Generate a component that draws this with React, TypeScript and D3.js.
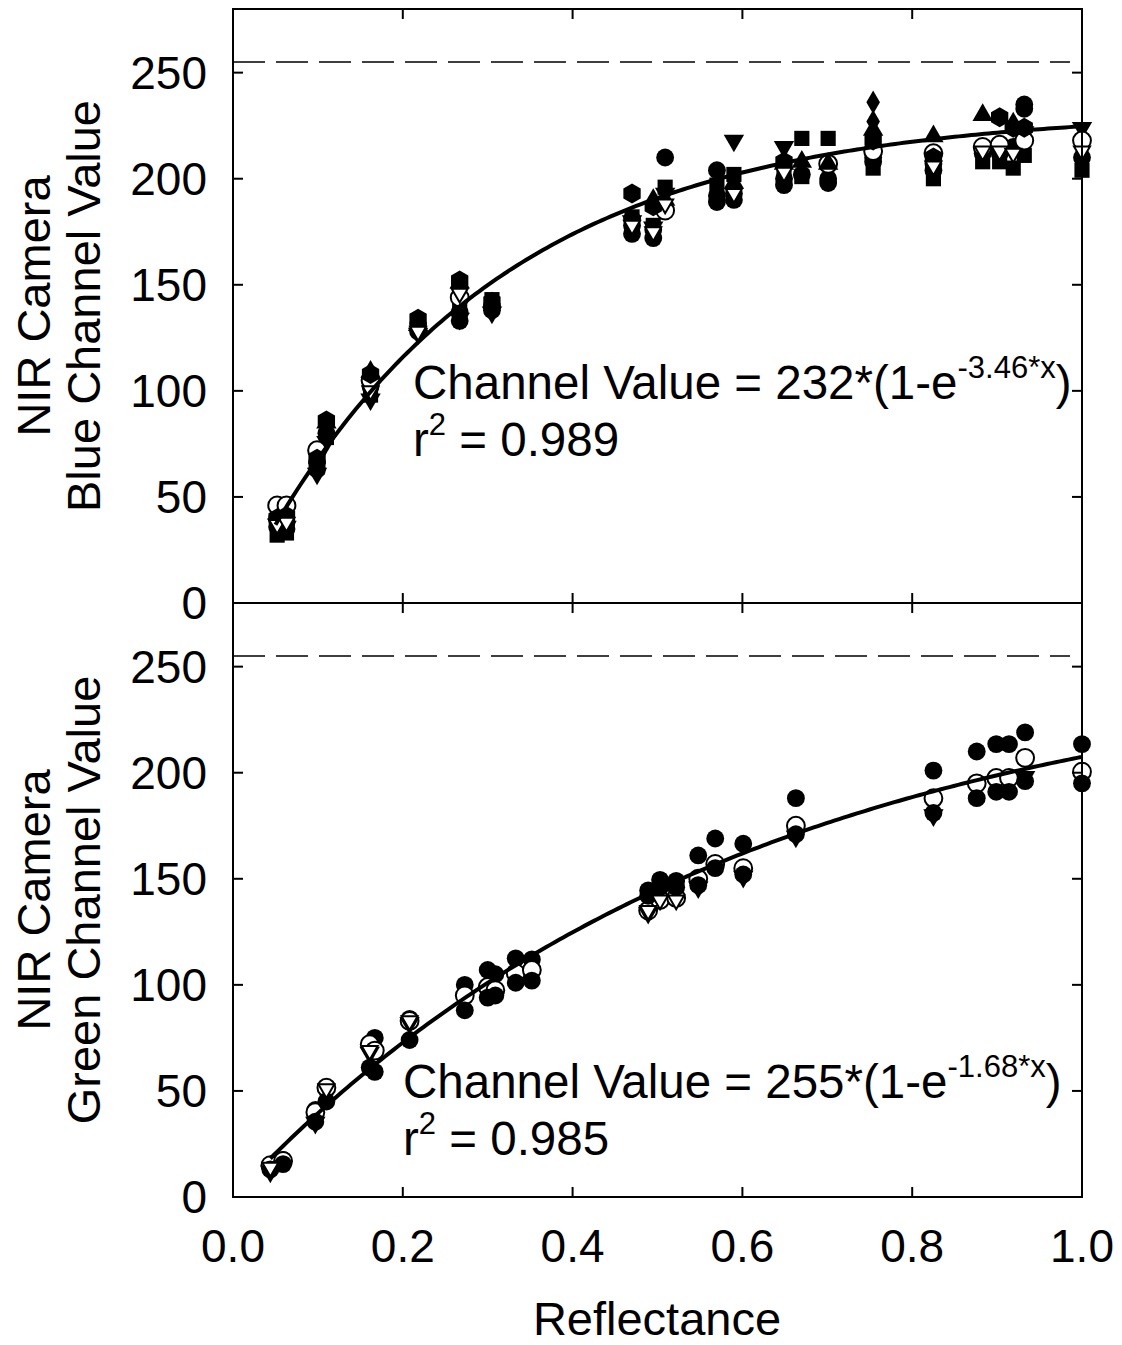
import * as d3 from "d3";

// reflectance vs channel value
const blueCircle = [[0.052,40],[0.063,38],[0.099,66],[0.110,80],[0.162,102],[0.218,128],[0.267,137],[0.305,138],[0.470,174],[0.495,172],[0.509,210],[0.570,204],[0.590,190],[0.649,197],[0.670,202],[0.701,200],[0.754,210],[0.825,204],[0.883,212],[0.903,212],[0.919,215],[0.932,235],[1.0,210]];
const blueCircleB = [[0.052,36],[0.063,35],[0.099,63],[0.218,131],[0.267,133],[0.305,140],[0.470,178],[0.470,181],[0.495,176],[0.570,192],[0.570,189],[0.590,193],[0.649,200],[0.701,198],[0.754,208],[0.825,207],[0.932,233]];
const blueOpenCircle = [[0.052,46],[0.063,46],[0.099,72],[0.162,105],[0.267,144],[0.509,185],[0.701,207],[0.754,213],[0.825,212],[0.883,215],[0.903,216],[0.932,218],[1.0,218]];
const blueTriDown = [[0.052,37],[0.063,36],[0.099,61],[0.110,76],[0.162,96],[0.218,127],[0.267,134],[0.305,137],[0.470,180],[0.495,177],[0.509,193],[0.590,218],[0.649,215],[0.932,222],[1.0,224]];
const blueOpenTriDown = [[0.052,37],[0.063,38],[0.162,100],[0.218,128],[0.267,146],[0.470,178],[0.495,175],[0.509,188],[0.590,193],[0.649,203],[0.825,206],[0.883,213],[0.903,213],[0.919,212],[1.0,213]];
const blueSquare = [[0.052,32],[0.063,33],[0.099,64],[0.110,78],[0.162,98],[0.218,133],[0.267,139],[0.305,143],[0.470,182],[0.495,178],[0.509,196],[0.570,197],[0.590,202],[0.649,205],[0.670,219],[0.670,201],[0.701,219],[0.754,205],[0.825,200],[0.883,208],[0.903,208],[0.919,205],[0.932,211],[1.0,204]];
const blueDiamond = [[0.052,38],[0.110,82],[0.495,190],[0.754,236],[0.754,227],[0.919,226]];
const blueTriUp = [[0.110,85],[0.162,109],[0.218,131],[0.267,151],[0.509,190],[0.590,198],[0.649,207],[0.670,208],[0.701,207],[0.754,223],[0.825,220],[0.883,230]];
const blueHexagon = [[0.052,40],[0.063,41],[0.099,68],[0.110,86],[0.162,108],[0.218,134],[0.267,152],[0.305,142],[0.470,193],[0.495,187],[0.649,208],[0.754,218],[0.825,210],[0.903,229],[0.919,224],[0.932,224]];

const greenCircleHi = [[0.044,15],[0.059,17.5],[0.097,41],[0.110,51],[0.167,75],[0.208,84],[0.273,100],[0.300,107],[0.309,105],[0.333,112.5],[0.352,112],[0.489,144.5],[0.503,149.5],[0.522,149],[0.548,161],[0.568,169],[0.601,166.5],[0.663,188],[0.825,201],[0.876,210],[0.899,213.5],[0.914,213.5],[0.933,219],[1.0,213.5]];
const greenOpenCircle = [[0.044,15],[0.059,17],[0.097,40],[0.110,51.5],[0.161,72],[0.167,69],[0.208,83],[0.273,95],[0.300,99],[0.309,97.5],[0.333,105.5],[0.352,107],[0.489,135],[0.503,140],[0.522,141],[0.548,150],[0.568,157],[0.601,155],[0.663,175],[0.825,188],[0.876,195],[0.899,197.5],[0.914,197.5],[0.933,207],[1.0,200.5]];
const greenCircleLo = [[0.044,13],[0.059,15.5],[0.097,35.5],[0.110,45],[0.161,61],[0.167,59],[0.208,74],[0.273,88],[0.300,94],[0.309,95],[0.333,101],[0.352,102],[0.489,142],[0.503,146],[0.522,146],[0.548,147],[0.568,155],[0.601,152],[0.663,171],[0.825,181],[0.876,188],[0.899,191],[0.914,191],[0.933,196],[1.0,195]];
const greenTriDown = [[0.044,12],[0.097,35],[0.161,68],[0.208,82],[0.489,134],[0.548,146],[0.601,151],[0.663,170],[0.825,180],[0.933,198]];
const greenOpenTriDown = [[0.044,14],[0.110,51],[0.161,69],[0.208,83],[0.489,135],[0.503,140],[0.522,140]];

const blueFit = { a: 232, k: 3.46, from: 0.05 };
const greenFit = { a: 255, k: 1.68, from: 0.044 };
const xTicks = [0, 0.2, 0.4, 0.6, 0.8, 1.0];
const yTicks = [0, 50, 100, 150, 200, 250];
const saturation = 255;

const FONT = "'Liberation Sans', Arial, sans-serif";

const hexagon = (r) => {
  const pts = d3.range(6).map((i) => {
    const a = (Math.PI / 3) * i - Math.PI / 2;
    return [r * Math.cos(a), r * Math.sin(a)];
  });
  return "M" + pts.map((p) => p.join(",")).join("L") + "Z";
};

const shapes = {
  circle: { d: d3.symbol().type(d3.symbolCircle).size(250)(), rot: 0 },
  square: { d: d3.symbol().type(d3.symbolSquare).size(230)(), rot: 0 },
  diamond: { d: d3.symbol().type(d3.symbolDiamond).size(160)(), rot: 0 },
  triUp: { d: d3.symbol().type(d3.symbolTriangle).size(180)(), rot: 0 },
  triDown: { d: d3.symbol().type(d3.symbolTriangle).size(180)(), rot: 180 },
  openTri: { d: d3.symbol().type(d3.symbolTriangle).size(110)(), rot: 180 },
  hexagon: { d: hexagon(10), rot: 0 },
};

const blueSeries = [
  { data: blueSquare, shape: "square", filled: true },
  { data: blueTriDown, shape: "triDown", filled: true },
  { data: blueCircleB, shape: "circle", filled: true },
  { data: blueCircle, shape: "circle", filled: true },
  { data: blueOpenCircle, shape: "circle", filled: false },
  { data: blueHexagon, shape: "hexagon", filled: true },
  { data: blueTriUp, shape: "triUp", filled: true },
  { data: blueDiamond, shape: "diamond", filled: true },
  { data: blueOpenTriDown, shape: "openTri", filled: false },
];

const greenSeries = [
  { data: greenCircleHi, shape: "circle", filled: true },
  { data: greenOpenCircle, shape: "circle", filled: false },
  { data: greenTriDown, shape: "triDown", filled: true },
  { data: greenCircleLo, shape: "circle", filled: true },
  { data: greenOpenTriDown, shape: "openTri", filled: false },
];

const x = d3.scaleLinear().domain([0, 1]).range([233, 1082]);

function Panel({ y, series, fit, title, eq, r2, eqX, eqY }) {
  const [x0, x1] = x.range();
  const [yb, yt] = y.range();
  const line = d3.line().x((d) => x(d[0])).y((d) => y(d[1]));
  const curve = d3.range(fit.from, 1.0001, 0.005).map((v) => [v, fit.a * (1 - Math.exp(-fit.k * v))]);
  const tl = 10;
  const cy = (yb + yt) / 2;
  return (
    <g>
      <line x1={x0} x2={1070} y1={y(saturation)} y2={y(saturation)} stroke="#000" strokeWidth={1.6} strokeDasharray="32 11" />
      {series.map((s, i) =>
        s.data.map((p, j) => (
          <path
            key={i + "-" + j}
            d={shapes[s.shape].d}
            transform={`translate(${x(p[0])},${y(p[1])}) rotate(${shapes[s.shape].rot})`}
            fill={s.filled ? "#000" : "#fff"}
            stroke="#000"
            strokeWidth={s.filled ? 0 : 2}
          />
        ))
      )}
      <path d={line(curve)} fill="none" stroke="#000" strokeWidth={4} />
      <rect x={x0} y={yt} width={x1 - x0} height={yb - yt} fill="none" stroke="#000" strokeWidth={2} />
      {xTicks.slice(1, -1).map((t) => (
        <g key={t}>
          <line x1={x(t)} x2={x(t)} y1={yt} y2={yt + tl} stroke="#000" strokeWidth={2} />
          <line x1={x(t)} x2={x(t)} y1={yb} y2={yb - tl} stroke="#000" strokeWidth={2} />
        </g>
      ))}
      {yTicks.map((t) => (
        <g key={t}>
          <line x1={x0} x2={x0 + tl} y1={y(t)} y2={y(t)} stroke="#000" strokeWidth={2} />
          <line x1={x1} x2={x1 - tl} y1={y(t)} y2={y(t)} stroke="#000" strokeWidth={2} />
          <text x={207} y={y(t)} dy="0.35em" textAnchor="end" fontSize={46} fontFamily={FONT}>{t}</text>
        </g>
      ))}
      <text transform={`translate(50,${cy}) rotate(-90)`} textAnchor="middle" fontSize={47} fontFamily={FONT}>NIR Camera</text>
      <text transform={`translate(100,${cy}) rotate(-90)`} textAnchor="middle" fontSize={47} fontFamily={FONT}>{title}</text>
      <text x={eqX} y={eqY} fontSize={47.5} fontFamily={FONT}>
        Channel Value = {fit.a}*(1-e<tspan fontSize={31} dy={-21}>{eq}</tspan><tspan dy={21}>)</tspan>
      </text>
      <text x={eqX} y={eqY + 57} fontSize={47.5} fontFamily={FONT}>
        r<tspan fontSize={31} dy={-21}>2</tspan><tspan dy={21}> = {r2}</tspan>
      </text>
    </g>
  );
}

export default function App() {
  const yTop = d3.scaleLinear().domain([0, 280]).range([603, 9]);
  const yBot = d3.scaleLinear().domain([0, 280]).range([1197, 603]);
  return (
    <svg width={1122} height={1345} style={{ position: "absolute", left: 0, top: 0, background: "#fff" }}>
      <rect width={1122} height={1345} fill="#fff" />
      <Panel y={yTop} series={blueSeries} fit={blueFit} title="Blue Channel Value" eq="-3.46*x" r2="0.989" eqX={413} eqY={399} />
      <Panel y={yBot} series={greenSeries} fit={greenFit} title="Green Channel Value" eq="-1.68*x" r2="0.985" eqX={403} eqY={1098} />
      {xTicks.map((t) => (
        <text key={t} x={x(t)} y={1262} textAnchor="middle" fontSize={46} fontFamily={FONT}>{t.toFixed(1)}</text>
      ))}
      <text x={657} y={1335} textAnchor="middle" fontSize={47} fontFamily={FONT}>Reflectance</text>
    </svg>
  );
}
